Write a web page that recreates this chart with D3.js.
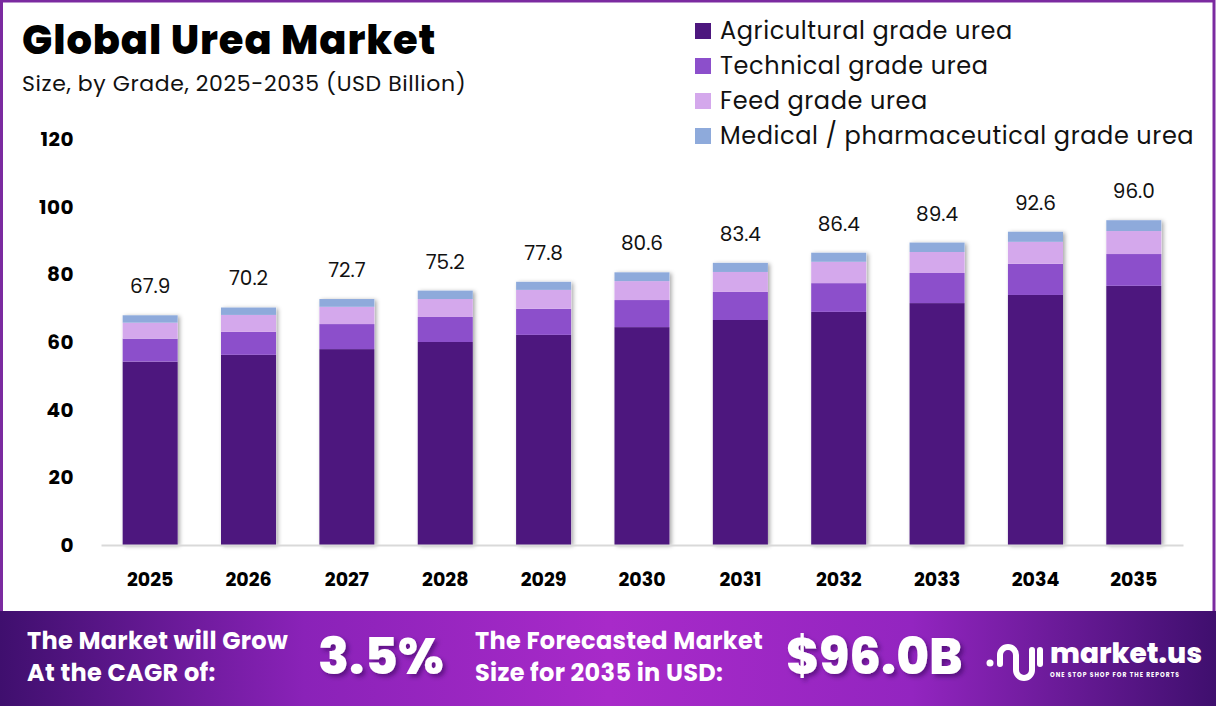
<!DOCTYPE html>
<html><head><meta charset="utf-8">
<script src="https://cdn.jsdelivr.net/npm/d3@7"></script>
<style>
html,body{margin:0;padding:0;background:#fff;}
svg{display:block;font-family:"Poppins","Inter","Noto Sans",sans-serif;}
</style></head>
<body>
<svg id="c" width="1216" height="706"></svg>
<script>
const years = ["2025","2026","2027","2028","2029","2030","2031","2032","2033","2034","2035"];
const agricultural = [54.2,56.2,57.9,60.0,62.1,64.4,66.5,68.9,71.5,73.9,76.6];
const technical    = [6.8,6.8,7.4,7.4,7.7,8.0,8.3,8.5,8.9,9.2,9.4];
const feed         = [4.7,5.0,5.1,5.3,5.6,5.6,5.9,6.3,6.2,6.5,6.8];
const medical      = [2.2,2.2,2.3,2.5,2.4,2.6,2.7,2.7,2.8,3.0,3.2];
const totals       = ["67.9","70.2","72.7","75.2","77.8","80.6","83.4","86.4","89.4","92.6","96.0"];
const seriesNames  = ["Agricultural grade urea","Technical grade urea","Feed grade urea","Medical / pharmaceutical grade urea"];
const yTicks = [0,20,40,60,80,100,120];
const colors = ["#4d177e","#8c4fcb","#d4a8ec","#8eaadb"];

const svg = d3.select("#c");
const defs = svg.append("defs");
const fg = defs.append("linearGradient").attr("id","fg").attr("x1","0").attr("x2","1").attr("y1","0").attr("y2","0");
fg.append("stop").attr("offset","0%").attr("stop-color","#3f0f6e");
fg.append("stop").attr("offset","25%").attr("stop-color","#8a22b8");
fg.append("stop").attr("offset","50%").attr("stop-color","#a82ac9");
fg.append("stop").attr("offset","75%").attr("stop-color","#9325c0");
fg.append("stop").attr("offset","100%").attr("stop-color","#3f0f6e");
const sh = defs.append("filter").attr("id","sh").attr("x","-20%").attr("y","-20%").attr("width","150%").attr("height","140%");
sh.append("feDropShadow").attr("dx",2).attr("dy",1).attr("stdDeviation",2).attr("flood-color","#000").attr("flood-opacity",0.35);
const ts = defs.append("filter").attr("id","ts").attr("x","-20%").attr("y","-20%").attr("width","150%").attr("height","150%");
ts.append("feDropShadow").attr("dx",3).attr("dy",3).attr("stdDeviation",2).attr("flood-color","#2a0050").attr("flood-opacity",0.5);

// frame
svg.append("rect").attr("x",1.5).attr("y",1).attr("width",1212.5).attr("height",620).attr("fill","#fff").attr("stroke","#7b2aa0").attr("stroke-width",3);

// title
svg.append("text").attr("x",22).attr("y",54).attr("font-size",40).attr("font-weight",800).attr("fill","#000").attr("letter-spacing",0.9).text("Global Urea Market");
svg.append("text").attr("x",22).attr("y",91).attr("font-size",22).attr("fill","#111").attr("letter-spacing",0.6).text("Size, by Grade, 2025-2035 (USD Billion)");

// legend
const lg = svg.append("g");
seriesNames.forEach((n,i)=>{
  const cy = 31 + i*35;
  lg.append("rect").attr("x",695).attr("y",cy-8).attr("width",16).attr("height",16).attr("fill",colors[i]);
  lg.append("text").attr("x",720).attr("y",cy).attr("dy","0.35em").attr("font-size",24).attr("letter-spacing",0.6).attr("fill","#111").text(n);
});

// scales
const x = d3.scaleBand().domain(years).range([101,1183]).paddingInner(0.44).paddingOuter(0.22);
const y = d3.scaleLinear().domain([0,120]).range([545,139]);

// stack
const rows = years.map((yr,i)=>({year:yr, a:agricultural[i], t:technical[i], f:feed[i], m:medical[i]}));
const stack = d3.stack().keys(["a","t","f","m"])(rows);

const bars = svg.append("g");
bars.selectAll("rect.sh").data(rows).join("rect").attr("class","sh")
  .attr("x",d=>x(d.year)).attr("width",x.bandwidth())
  .attr("y",d=>y(d.a+d.t+d.f+d.m)).attr("height",d=>y(0)-y(d.a+d.t+d.f+d.m))
  .attr("fill","#fff").attr("filter","url(#sh)");
stack.forEach((s,k)=>{
  bars.selectAll("rect.s"+k).data(s).join("rect").attr("class","s"+k)
    .attr("x",d=>x(d.data.year)).attr("width",x.bandwidth())
    .attr("y",d=>y(d[1])).attr("height",d=>y(d[0])-y(d[1]))
    .attr("fill",colors[k]);
});

// value labels
svg.append("g").selectAll("text").data(rows).join("text")
  .attr("x",d=>x(d.year)+x.bandwidth()/2)
  .attr("y",(d,i)=>y(d.a+d.t+d.f+d.m)-22)
  .attr("text-anchor","middle").attr("font-size",20).attr("fill","#111")
  .text((d,i)=>totals[i]);

// axes
const yAxis = svg.append("g").attr("transform","translate(74,0)")
  .call(d3.axisLeft(y).tickValues(yTicks).tickSize(0).tickPadding(0));
yAxis.select(".domain").remove();
yAxis.selectAll("text").attr("font-size",20).attr("font-weight",700).attr("letter-spacing",0.5).attr("fill","#000").attr("font-family","Poppins, Inter, sans-serif");

const xAxis = svg.append("g").attr("transform","translate(0,545)")
  .call(d3.axisBottom(x).tickSize(0).tickPadding(28));
xAxis.select(".domain").attr("stroke","#d9d9d9").attr("stroke-width",2);
xAxis.selectAll("text").attr("font-size",19).attr("font-weight",700).attr("fill","#000").attr("font-family","Poppins, Inter, sans-serif");

// footer
svg.append("rect").attr("x",0).attr("y",611).attr("width",1216).attr("height",95).attr("fill","url(#fg)");
const ft = svg.append("g").attr("fill","#fff").attr("font-weight",700);
ft.append("text").attr("x",27).attr("y",649).attr("font-size",24).attr("letter-spacing",0.3).text("The Market will Grow");
ft.append("text").attr("x",27).attr("y",681).attr("font-size",24).attr("letter-spacing",0.3).text("At the CAGR of:");
ft.append("text").attr("x",318).attr("y",674).attr("font-size",51).attr("font-weight",800).attr("filter","url(#ts)").text("3.5%");
ft.append("text").attr("x",475).attr("y",649).attr("font-size",24).attr("letter-spacing",0.3).text("The Forecasted Market");
ft.append("text").attr("x",475).attr("y",681).attr("font-size",24).attr("letter-spacing",0.3).text("Size for 2035 in USD:");
ft.append("text").attr("x",786).attr("y",674).attr("font-size",50).attr("font-weight",800).attr("filter","url(#ts)").text("$96.0B");

// logo
const lo = svg.append("g").attr("fill","none").attr("stroke","#fff").attr("stroke-width",6).attr("stroke-linecap","round");
svg.append("circle").attr("cx",990).attr("cy",663).attr("r",3.5).attr("fill","#fff");
lo.append("path").attr("d","M1000,664 L1000,655 A8,8 0 0 1 1016,655 L1016,670 A8,8 0 0 0 1032,670 L1032,650");
lo.append("path").attr("d","M1040,650 L1040,664");
svg.append("text").attr("x",1050).attr("y",663).attr("font-size",28).attr("font-weight",800).attr("fill","#fff").attr("letter-spacing",0).text("market.us");
svg.append("text").attr("x",1050).attr("y",677).attr("font-size",6).attr("font-weight",700).attr("fill","#fff").attr("letter-spacing",1).text("ONE STOP SHOP FOR THE REPORTS");
</script>
</body></html>
